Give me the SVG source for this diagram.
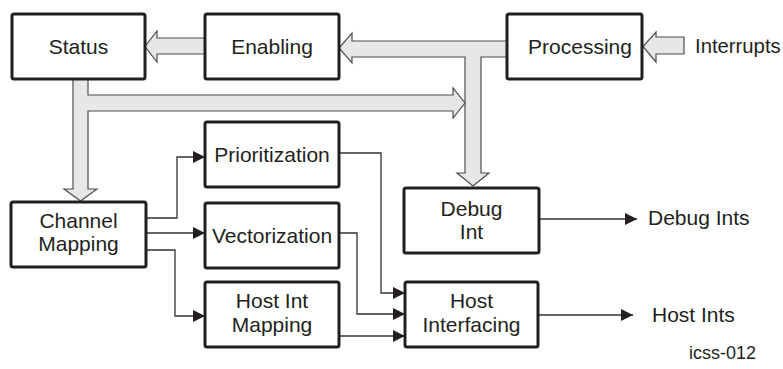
<svg xmlns="http://www.w3.org/2000/svg" width="783" height="369" viewBox="0 0 783 369">
<style>
.box{fill:#fff;stroke:#231f20;stroke-width:3}
.t{font-family:"Liberation Sans",Arial,sans-serif;font-size:21px;fill:#231f20;text-anchor:middle}
.l{font-family:"Liberation Sans",Arial,sans-serif;font-size:21px;fill:#231f20}
.fat{fill:#e6e7e8;stroke:#4d4d4f;stroke-width:1.2;stroke-linejoin:miter}
.thin{fill:none;stroke:#333;stroke-width:1.3}
</style>
<defs>
<marker id="ah" markerUnits="userSpaceOnUse" markerWidth="13" markerHeight="12" refX="12" refY="6" orient="auto">
<path d="M0,0 L12,6 L0,12 z" fill="#231f20"/>
</marker>
</defs>
<g id="connectors">
<path class="fat" d="M205,38 L157,38 L157,31 L145,46.5 L157,62 L157,54 L205,54"/>
<path class="fat" d="M507,41 L352,41 L352,33 L339,48 L352,63 L352,57 L465,57 L465,173 L457,173 L473,186 L489,173 L481,173 L481,57 L507,57"/>
<path class="fat" d="M73,79 L73,189 L64,189 L80.5,201 L97,189 L88,189 L88,111 L453,111 L453,118 L465,103 L453,88 L453,95 L88,95 L88,79"/>
<path class="fat" d="M684,37 L656,37 L656,32 L643,46.5 L656,62 L656,54 L684,54 Z"/>
<path class="thin" marker-end="url(#ah)" d="M146,218 L177,218 L177,157 L205,157"/>
<path class="thin" marker-end="url(#ah)" d="M146,233 L205,233"/>
<path class="thin" marker-end="url(#ah)" d="M146,250 L175,250 L175,316 L205,316"/>
<path class="thin" marker-end="url(#ah)" d="M339,153 L381,153 L381,293 L405,293"/>
<path class="thin" marker-end="url(#ah)" d="M339,233 L357,233 L357,314 L405,314"/>
<path class="thin" marker-end="url(#ah)" d="M339,336 L405,336"/>
<path class="thin" marker-end="url(#ah)" d="M539,219 L637,219"/>
<path class="thin" marker-end="url(#ah)" d="M538,315 L633,315"/>
</g>
<g id="status"><rect class="box" x="12" y="14" width="133" height="65" rx="2"/><text class="t" x="78.5" y="54">Status</text></g>
<g id="enabling"><rect class="box" x="205" y="14" width="134" height="65" rx="2"/><text class="t" x="272" y="54">Enabling</text></g>
<g id="processing"><rect class="box" x="507" y="14" width="135" height="65" rx="2"/><text class="t" x="580" y="54">Processing</text></g>
<g id="interrupts"><text class="l" x="695" y="53" style="font-size:20.3px">Interrupts</text></g>
<g id="channel-mapping"><rect class="box" x="11" y="202" width="135" height="65" rx="2"/><text class="t" x="78.5" y="228">Channel</text><text class="t" x="78.5" y="251">Mapping</text></g>
<g id="prioritization"><rect class="box" x="205" y="122" width="134" height="65" rx="2"/><text class="t" x="272" y="162">Prioritization</text></g>
<g id="vectorization"><rect class="box" x="205" y="203" width="134" height="65" rx="2"/><text class="t" x="272" y="243">Vectorization</text></g>
<g id="host-int-mapping"><rect class="box" x="205" y="282" width="134" height="65" rx="2"/><text class="t" x="272" y="308">Host Int</text><text class="t" x="272" y="332">Mapping</text></g>
<g id="debug-int"><rect class="box" x="404" y="188" width="135" height="65" rx="2"/><text class="t" x="471.5" y="216">Debug</text><text class="t" x="471.5" y="239">Int</text></g>
<g id="host-interfacing"><rect class="box" x="405" y="282" width="133" height="65" rx="2"/><text class="t" x="471.5" y="308">Host</text><text class="t" x="471.5" y="332">Interfacing</text></g>
<g id="debug-ints"><text class="l" x="648" y="225">Debug Ints</text></g>
<g id="host-ints"><text class="l" x="652" y="322">Host Ints</text></g>
<g id="label"><text class="l" x="689" y="359" style="font-size:18px">icss-012</text></g>
</svg>
